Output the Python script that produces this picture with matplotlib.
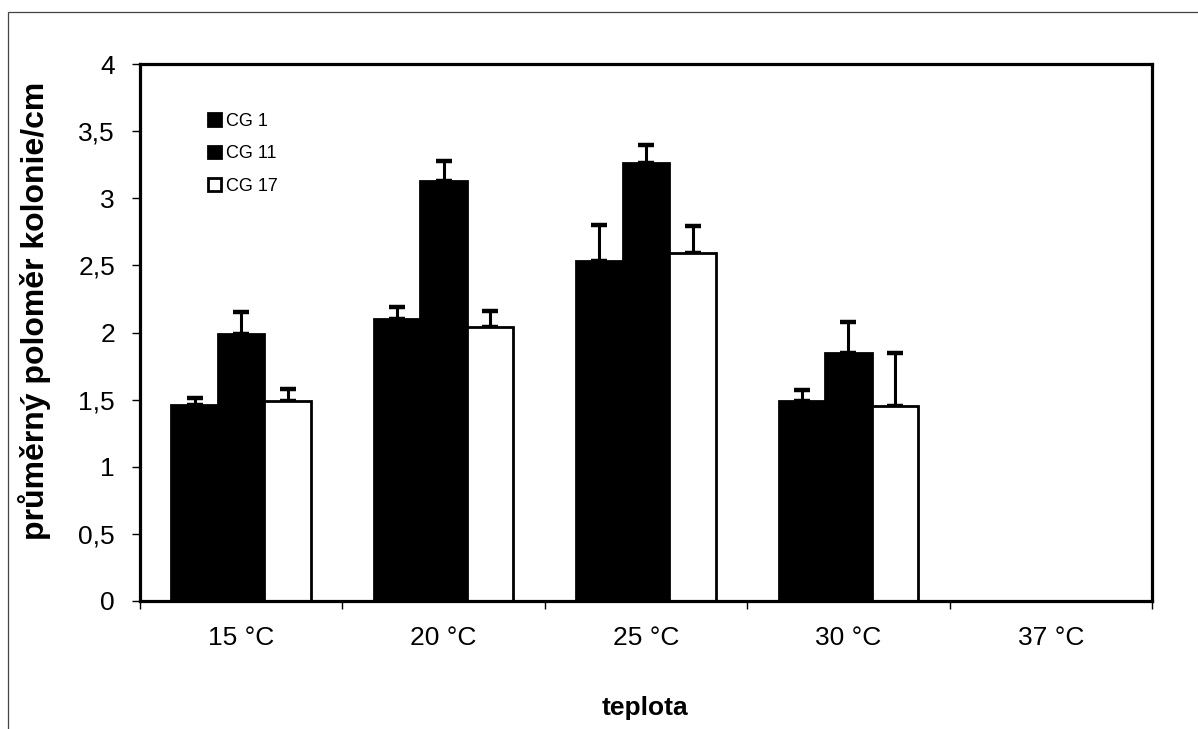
import matplotlib
matplotlib.use('Agg')
import matplotlib.pyplot as plt
from matplotlib.patches import Rectangle
import numpy as np

plt.rcParams['font.family'] = ['Liberation Sans', 'DejaVu Sans']

# data
categories = ['15 °C', '20 °C', '25 °C', '30 °C', '37 °C']
series = ['CG 1', 'CG 11', 'CG 17']
cg1 = [1.46, 2.10, 2.53, 1.49, 0]
cg1_err = [0.05, 0.09, 0.27, 0.08, 0]
cg11 = [1.99, 3.13, 3.26, 1.85, 0]
cg11_err = [0.16, 0.15, 0.14, 0.23, 0]
cg17 = [1.49, 2.04, 2.59, 1.45, 0]
cg17_err = [0.09, 0.12, 0.20, 0.40, 0]
yticks = [0, 0.5, 1, 1.5, 2, 2.5, 3, 3.5, 4]
ytick_labels = ['0', '0,5', '1', '1,5', '2', '2,5', '3', '3,5', '4']

fig = plt.figure(figsize=(11.98, 7.29), dpi=100)
ax = fig.add_axes([140 / 1198, 1 - 601 / 729, 1012 / 1198, 537 / 729])

x = np.arange(len(categories))
w = 0.23
colors = ['black', 'black', 'white']
for i, (vals, errs) in enumerate([(cg1, cg1_err), (cg11, cg11_err), (cg17, cg17_err)]):
    vals = np.array(vals, dtype=float)
    errs = np.array(errs, dtype=float)
    pos = x + (i - 1) * w
    ax.bar(pos, vals, width=w, color=colors[i], edgecolor='black',
           linewidth=2, label=series[i], zorder=2)
    m = vals > 0
    ax.errorbar(pos[m], vals[m], yerr=[np.zeros(m.sum()), errs[m]], fmt='none',
                ecolor='black', elinewidth=2.2, capsize=5.5, capthick=3.2, zorder=1)

ax.set_xlim(-0.5, len(categories) - 0.5)
ax.set_ylim(0, 4)
ax.set_yticks(yticks)
ax.set_yticklabels(ytick_labels, fontsize=19)
ax.set_xticks(np.arange(-0.5, len(categories)))
ax.set_xticklabels([])
ax.set_xticks(x, minor=True)
ax.set_xticklabels(categories, minor=True, fontsize=19)
ax.tick_params(axis='x', which='minor', length=0, pad=18)
ax.tick_params(axis='x', which='major', length=6, width=1)
ax.tick_params(axis='y', length=6, width=1, pad=12)

for s in ax.spines.values():
    s.set_linewidth(2.3)

ax.set_ylabel('průměrný poloměr kolonie/cm', fontsize=23, fontweight='bold', va='center')
ax.yaxis.set_label_coords(-0.104, 0.54)
ax.set_xlabel('teplota', fontsize=19, fontweight='bold', va='center')
ax.xaxis.set_label_coords(0.499, -0.199)

leg = ax.legend(loc='upper left', bbox_to_anchor=(0.06, 0.922), frameon=False,
                fontsize=13, handlelength=0.7, handleheight=0.7, handletextpad=0.3,
                labelspacing=0.85, borderaxespad=0)

# outer frame of the figure
fig.add_artist(Rectangle((8 / 1198, -0.1), 1.2, 1.1 - 12 / 729,
                         transform=fig.transFigure, fill=False,
                         edgecolor='#444444', linewidth=0.9, clip_on=False))

fig.savefig('out.png', dpi=100)
